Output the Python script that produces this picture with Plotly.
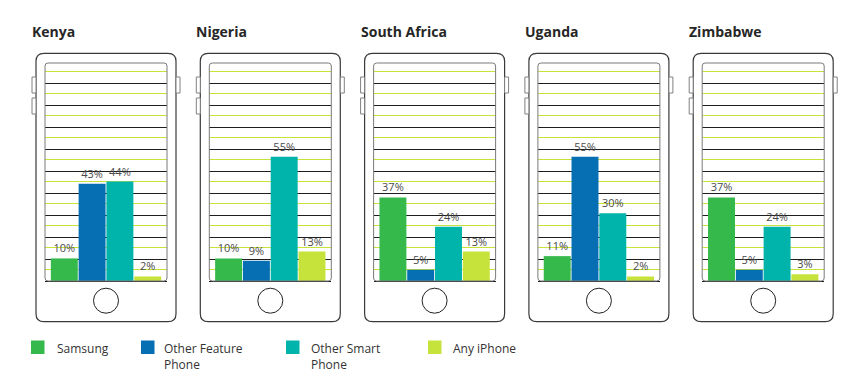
import plotly.graph_objects as go

# ---- data ----
countries = ["Kenya", "Nigeria", "South Africa", "Uganda", "Zimbabwe"]
series = ["Samsung", "Other Feature Phone", "Other Smart Phone", "Any iPhone"]
legend_labels = ["Samsung", "Other Feature<br>Phone", "Other Smart<br>Phone", "Any iPhone"]
samsung = [10, 10, 37, 11, 37]
other_feature = [43, 9, 5, 55, 5]
other_smart = [44, 55, 24, 30, 24]
any_iphone = [2, 13, 13, 2, 3]
colors = ["#35b94b", "#066eb2", "#00b4ab", "#c5e33a"]

W, H = 856, 376
OFF = 8  # page body margin
FONT = "Open Sans"


def px(x):
    return (x - OFF) / W


def py(y):
    return 1 - (y - OFF) / H


def rrect(x0, y0, x1, y1, r):
    return (f"M {px(x0 + r)},{py(y0)} L {px(x1 - r)},{py(y0)} "
            f"Q {px(x1)},{py(y0)} {px(x1)},{py(y0 + r)} "
            f"L {px(x1)},{py(y1 - r)} Q {px(x1)},{py(y1)} {px(x1 - r)},{py(y1)} "
            f"L {px(x0 + r)},{py(y1)} Q {px(x0)},{py(y1)} {px(x0)},{py(y1 - r)} "
            f"L {px(x0)},{py(y0 + r)} Q {px(x0)},{py(y0)} {px(x0 + r)},{py(y0)} Z")


fig = go.Figure()
shapes = []
annotations = []

all_series = [samsung, other_feature, other_smart, any_iphone]
OUT_TOP, OUT_BOT = 53.3, 321.7
SCR_TOP, SCR_BOT = 63, 281          # plot area, integer pixels
YMAX = 96.46
PPU = (SCR_BOT - SCR_TOP) / YMAX    # pixels per percent
STEP = 11 / PPU                     # grid line spacing (11 px)
HALF = 0.5 / PPU                    # half-pixel nudge so 1px lines render crisp

for i, country in enumerate(countries):
    L = 36 + 164.3 * i
    vals = [s[i] for s in all_series]
    ax = "" if i == 0 else str(i + 1)
    fig.add_trace(go.Bar(
        x=[0, 1, 2, 3], y=vals,
        marker=dict(color=colors, line=dict(width=0)),
        text=[f"{v}%" for v in vals], textposition="outside",
        textfont=dict(family=FONT, size=11, color="#4a4a4a"),
        cliponaxis=False, showlegend=False, hoverinfo="skip",
        xaxis="x" + ax, yaxis="y" + ax,
    ))
    fig.layout["xaxis" + ax] = dict(
        domain=[px(L + 9), px(L + 131)], range=[-0.695, 3.695],
        showticklabels=False, showgrid=False, zeroline=False, ticks="",
        showline=True, linecolor="#1e1e1e", linewidth=1,
        anchor="y" + ax, fixedrange=True)
    fig.layout["yaxis" + ax] = dict(
        domain=[py(SCR_BOT), py(SCR_TOP)], range=[0, YMAX],
        tick0=0, dtick=2 * STEP, showgrid=True, gridcolor="#1e1e1e", gridwidth=1,
        showticklabels=False, zeroline=False, ticks="",
        anchor="x" + ax, fixedrange=True)
    # green decorative lines between the black grid lines
    k = 1
    while k * STEP < YMAX:
        yk = k * STEP + HALF
        shapes.append(dict(type="line", xref="x" + ax, yref="y" + ax,
                           x0=-0.695, x1=3.695, y0=yk, y1=yk,
                           line=dict(color="#c5e33a", width=1), layer="below"))
        k += 2

    # side buttons
    for (bx0, bx1, by0, by1) in [(L - 4, L, 77, 93), (L - 4, L, 98, 114), (L + 140, L + 144, 77, 93)]:
        shapes.append(dict(type="rect", xref="paper", yref="paper",
                           x0=px(bx0), x1=px(bx1), y0=py(by1), y1=py(by0),
                           line=dict(color="#808080", width=1), fillcolor="white", layer="above"))
    # phone body
    shapes.append(dict(type="path", xref="paper", yref="paper",
                       path=rrect(L, OUT_TOP, L + 140, OUT_BOT, 8),
                       line=dict(color="#3a3a3a", width=1.2), layer="below"))
    # screen border
    shapes.append(dict(type="path", xref="paper", yref="paper",
                       path=rrect(L + 9, SCR_TOP, L + 131, SCR_BOT, 3),
                       line=dict(color="#7a7a7a", width=1), layer="above"))
    # home button
    cx, cy, r = L + 70, 300.7, 12.5
    shapes.append(dict(type="circle", xref="paper", yref="paper",
                       x0=px(cx - r), x1=px(cx + r), y0=py(cy + r), y1=py(cy - r),
                       line=dict(color="#222222", width=1), layer="above"))
    # title
    annotations.append(dict(text=f"<b>{country}</b>", x=px(L - 6), y=py(31),
                            xref="paper", yref="paper", xanchor="left", yanchor="middle",
                            showarrow=False, font=dict(family=FONT, size=14, color="#262626")))

# custom legend
sq_x = [31, 141, 286, 428]
tx_x = [55, 162, 309, 451]
for k, lab in enumerate(legend_labels):
    shapes.append(dict(type="rect", xref="paper", yref="paper",
                       x0=px(sq_x[k]), x1=px(sq_x[k] + 13.5), y0=py(354), y1=py(340.5),
                       fillcolor=colors[k], line=dict(width=0)))
    annotations.append(dict(text=lab, x=px(tx_x[k]), y=py(338), xref="paper", yref="paper",
                            xanchor="left", yanchor="top", align="left", showarrow=False,
                            font=dict(family=FONT, size=12, color="#333333")))

fig.update_layout(
    width=W, height=H, margin=dict(l=0, r=0, t=0, b=0),
    paper_bgcolor="white", plot_bgcolor="rgba(0,0,0,0)",
    bargap=0.03, shapes=shapes, annotations=annotations,
    showlegend=False,
)

fig.write_html("out.html")
